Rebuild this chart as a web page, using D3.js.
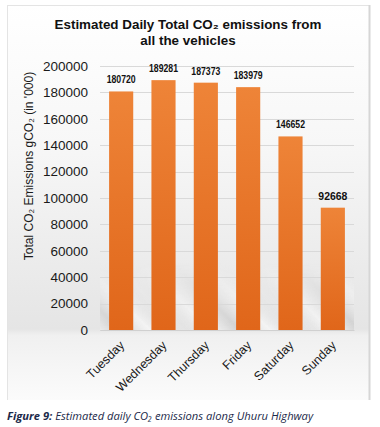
<!DOCTYPE html>
<html>
<head>
<meta charset="utf-8">
<script src="https://cdn.jsdelivr.net/npm/d3@7"></script>
<style>
  body { margin: 0; background: #ffffff; }
  svg { display: block; }
</style>
</head>
<body>
<div id="chart"></div>
<script>
// data
var days = ["Tuesday", "Wednesday", "Thursday", "Friday", "Saturday", "Sunday"];
var emissions = [180720, 189281, 187373, 183979, 146652, 92668];
var yTicks = [0, 20000, 40000, 60000, 80000, 100000, 120000, 140000, 160000, 180000, 200000];
var titleLines = ["Estimated Daily Total CO\u2082 emissions from", "all the vehicles"];

var width = 380, height = 427;
var plot = {left: 100, right: 354, top: 66, bottom: 330};

var svg = d3.select("#chart")
    .append("svg")
    .attr("width", width)
    .attr("height", height);

var defs = svg.append("defs");

// background of the chart frame
var bg = defs.append("linearGradient")
    .attr("id", "bg").attr("x1", 0).attr("y1", 0).attr("x2", 0).attr("y2", 1);
bg.append("stop").attr("offset", "0%").attr("stop-color", "#ffffff");
bg.append("stop").attr("offset", "35%").attr("stop-color", "#f7f7f7");
bg.append("stop").attr("offset", "82%").attr("stop-color", "#e5e5e5");
bg.append("stop").attr("offset", "83.6%").attr("stop-color", "#f0f0f0");
bg.append("stop").attr("offset", "100%").attr("stop-color", "#fbfbfb");

// bar fill, lighter at the top
var barGrad = defs.append("linearGradient")
    .attr("id", "bar").attr("x1", 0).attr("y1", 0).attr("x2", 0).attr("y2", 1);
barGrad.append("stop").attr("offset", "0%").attr("stop-color", "#ee8438");
barGrad.append("stop").attr("offset", "100%").attr("stop-color", "#e0661a");

// diagonal glossy streak near the bottom
var streak = defs.append("linearGradient")
    .attr("id", "streak")
    .attr("gradientUnits", "userSpaceOnUse")
    .attr("x1", 0).attr("y1", 330).attr("x2", 30).attr("y2", 300)
    .attr("spreadMethod", "reflect");
streak.append("stop").attr("offset", "0%").attr("stop-color", "#c9c9c9").attr("stop-opacity", 0.7);
streak.append("stop").attr("offset", "50%").attr("stop-color", "#ffffff").attr("stop-opacity", 0.6);
streak.append("stop").attr("offset", "100%").attr("stop-color", "#d5d5d5").attr("stop-opacity", 0.0);

var fade = defs.append("linearGradient")
    .attr("id", "fade").attr("x1", 0).attr("y1", 0).attr("x2", 0).attr("y2", 1);
fade.append("stop").attr("offset", "0%").attr("stop-color", "#fff").attr("stop-opacity", 0);
fade.append("stop").attr("offset", "100%").attr("stop-color", "#fff").attr("stop-opacity", 1);
defs.append("mask").attr("id", "streakMask")
  .append("rect")
    .attr("x", plot.left).attr("y", 262).attr("width", plot.right - plot.left).attr("height", 68)
    .attr("fill", "url(#fade)");

// frame
svg.append("rect")
    .attr("x", 7).attr("y", 5).attr("width", 363).attr("height", 395)
    .attr("fill", "url(#bg)");
svg.append("line")
    .attr("x1", 7).attr("x2", 370).attr("y1", 5.5).attr("y2", 5.5)
    .attr("stroke", "#e4e4e4");
svg.append("line")
    .attr("x1", 7.5).attr("x2", 7.5).attr("y1", 5).attr("y2", 400)
    .attr("stroke", "#e4e4e4");
svg.append("line")
    .attr("x1", 369.5).attr("x2", 369.5).attr("y1", 5).attr("y2", 400)
    .attr("stroke", "#d6d6d6").attr("stroke-width", 2);

svg.append("rect")
    .attr("x", plot.left).attr("y", 262).attr("width", plot.right - plot.left).attr("height", 68)
    .attr("fill", "url(#streak)")
    .attr("mask", "url(#streakMask)");

// scales
var xScale = d3.scaleBand()
    .domain(days)
    .range([plot.left, plot.right])
    .paddingInner(0.43)
    .paddingOuter(0.215);

var yScale = d3.scaleLinear()
    .domain([0, 200000])
    .range([plot.bottom, plot.top]);

// gridlines
svg.append("g").attr("class", "grid")
  .selectAll("line")
    .data(yTicks)
    .enter()
    .append("line")
    .attr("x1", plot.left).attr("x2", plot.right)
    .attr("y1", function(d) { return Math.round(yScale(d)) + 0.5; })
    .attr("y2", function(d) { return Math.round(yScale(d)) + 0.5; })
    .attr("stroke", "#d9d9d9");

// y axis labels
var yAxis = svg.append("g")
    .attr("class", "y-axis")
    .attr("transform", "translate(" + plot.left + ",0)")
    .call(d3.axisLeft(yScale).tickValues(yTicks).tickSize(0).tickPadding(12).tickFormat(d3.format("d")));
yAxis.select(".domain").remove();
yAxis.selectAll("text")
    .attr("font-family", "Liberation Sans, Arial, sans-serif")
    .attr("font-size", "13.5px")
    .attr("fill", "#1a1a1a");

// bars
svg.append("g").attr("class", "bars").selectAll("rect")
    .data(emissions)
    .enter()
    .append("rect")
    .attr("x", function(d, i) { return xScale(days[i]); })
    .attr("y", function(d) { return yScale(d); })
    .attr("width", xScale.bandwidth())
    .attr("height", function(d) { return plot.bottom - yScale(d); })
    .attr("fill", "url(#bar)");

// value labels
svg.append("g").attr("class", "values").selectAll("text")
    .data(emissions)
    .enter()
    .append("text")
    .attr("x", function(d, i) { return xScale(days[i]) + xScale.bandwidth() / 2; })
    .attr("y", function(d) { return yScale(d) - 8; })
    .attr("text-anchor", "middle")
    .attr("font-family", "Liberation Sans, Arial, sans-serif")
    .attr("font-weight", "bold")
    .attr("font-size", "11px")
    .attr("textLength", 29)
    .attr("lengthAdjust", "spacingAndGlyphs")
    .attr("fill", "#111")
    .text(function(d) { return d; });

// x axis labels
var xAxis = svg.append("g")
    .attr("class", "x-axis")
    .attr("transform", "translate(0," + plot.bottom + ")")
    .call(d3.axisBottom(xScale).tickSize(0).tickPadding(0));
xAxis.select(".domain")
    .attr("stroke", "#d0d0d0");
xAxis.selectAll("text")
    .attr("font-family", "Liberation Sans, Arial, sans-serif")
    .attr("font-size", "12.5px")
    .attr("fill", "#1a1a1a")
    .attr("text-anchor", "end")
    .attr("dy", null)
    .attr("y", 0)
    .attr("transform", "translate(4,16) rotate(-45)");

// y axis title
svg.append("text")
    .attr("transform", "translate(33,166) rotate(-90)")
    .attr("text-anchor", "middle")
    .attr("font-family", "Liberation Sans, Arial, sans-serif")
    .attr("font-size", "12px")
    .attr("fill", "#1a1a1a")
    .text("Total CO\u2082 Emissions gCO\u2082 (in '000)");

// title
svg.append("g").attr("class", "title").selectAll("text")
    .data(titleLines)
    .enter()
    .append("text")
    .attr("x", 188)
    .attr("y", function(d, i) { return 29 + i * 15.5; })
    .attr("text-anchor", "middle")
    .attr("font-family", "Liberation Sans, Arial, sans-serif")
    .attr("font-weight", "bold")
    .attr("font-size", "13.4px")
    .attr("fill", "#111")
    .text(function(d) { return d; });

// caption
var caption = svg.append("text")
    .attr("x", 7)
    .attr("y", 420)
    .attr("font-family", "Open Sans, sans-serif")
    .attr("font-style", "italic")
    .attr("font-size", "11.2px")
    .attr("fill", "#1c2a4a");
caption.append("tspan").attr("font-weight", "bold").text("Figure 9: ");
caption.append("tspan").text("Estimated daily CO\u2082 emissions along Uhuru Highway");
</script>
</body>
</html>
